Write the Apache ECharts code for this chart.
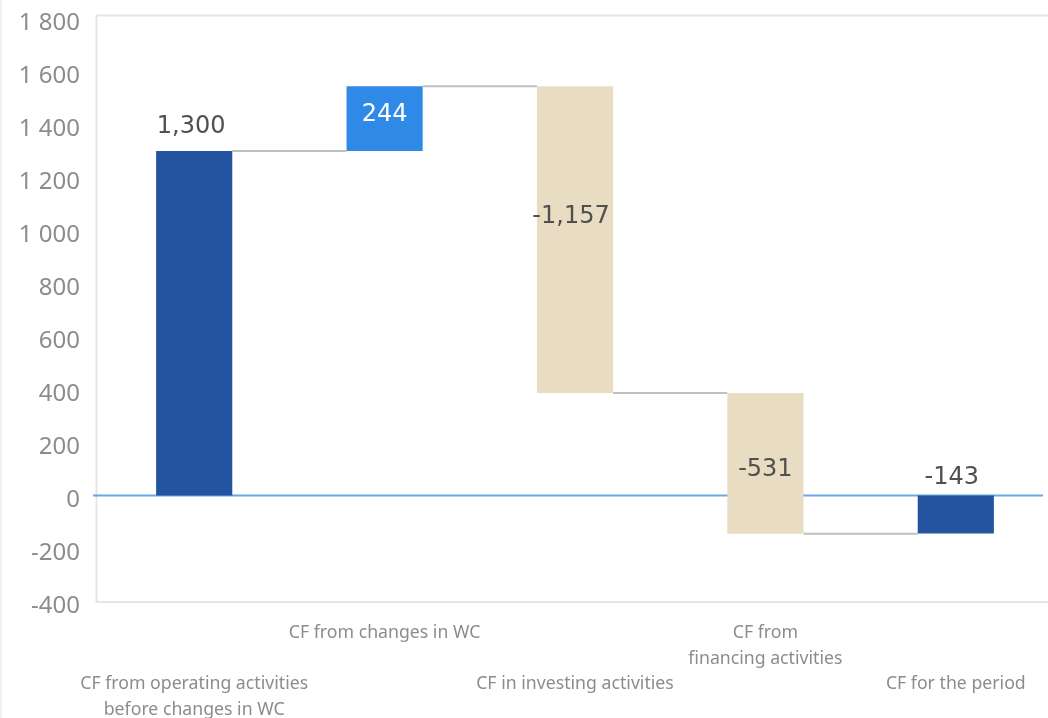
<!DOCTYPE html>
<html>
<head>
<meta charset="utf-8">
<script src="https://cdn.jsdelivr.net/npm/echarts@6/dist/echarts.min.js"></script>
<style>html,body{margin:0;padding:0;background:#fff}#c{width:1048px;height:718px}</style>
</head>
<body>
<div id="c"></div>
<script>
// ---- data ----
const categories = [
  'CF from operating activities\nbefore changes in WC',
  'CF from changes in WC',
  'CF in investing activities',
  'CF from\nfinancing activities',
  'CF for the period'
];
const values = [1300, 244, -1157, -531, -143];
const isTotal = [true, false, false, false, true];
const yMin = -400, yMax = 1800, yInterval = 200;

// ---- styles ----
const barColors = ['#24549f', '#2e8ae6', '#e8dcc2', '#e8dcc2', '#24549f'];
const labelColors = ['#505050', '#ffffff', '#505050', '#505050', '#505050'];
const labelDy = [-24, 28, 130, 77, -18]; // px from bar top to label centre
const labelDx = [-3, 0, -4, 0, -4];

// ---- derived ranges ----
const bars = [];
let running = 0;
values.forEach((v, i) => {
  let s, e;
  if (isTotal[i]) { s = 0; e = v; running = v; }
  else { s = running; e = running + v; running = e; }
  bars.push([i, s, e, v, running]);
});

function fmtComma(v) { return (v < 0 ? '-' : '') + Math.abs(v).toString().replace(/\B(?=(\d{3})+(?!\d))/g, ','); }
function fmtSpace(v) { return (v < 0 ? '-' : '') + Math.abs(v).toString().replace(/\B(?=(\d{3})+(?!\d))/g, ' '); }

const chart = echarts.init(document.getElementById('c'), null, { renderer: 'canvas' });
chart.setOption({
  animation: false,
  backgroundColor: '#ffffff',
  grid: { left: 99, right: -3, top: 18.5, bottom: 116.5, outerBoundsMode: 'none', containLabel: false },
  graphic: [
    { type: 'rect', shape: { x: 96.5, y: 15.5, width: 1000, height: 586.5 }, style: { fill: 'none', stroke: '#e6e6e6', lineWidth: 2 }, z: -10 },
    { type: 'line', shape: { x1: 1, y1: 0, x2: 1, y2: 718 }, style: { stroke: '#f0f0f0', lineWidth: 2 }, z: -10 }
  ],
  xAxis: {
    type: 'category',
    data: categories,
    axisLine: { show: false, onZero: false },
    axisTick: { show: false },
    splitLine: { show: false },
    axisLabel: {
      interval: 0,
      margin: 19,
      color: '#8c8c8c',
      fontSize: 17.7,
      lineHeight: 25.5,
      fontFamily: '"Noto Sans", "Open Sans", sans-serif',
      formatter: (val, idx) => (idx % 2 === 0 ? '\n\n' : '') + val
    }
  },
  yAxis: {
    type: 'value',
    min: yMin, max: yMax, interval: yInterval,
    axisLine: { show: false },
    axisTick: { show: false },
    splitLine: { show: false },
    axisLabel: {
      margin: 19,
      color: '#8c8c8c',
      fontSize: 24,
      verticalAlign: 'top',
      lineHeight: 10,
      fontFamily: '"Noto Sans", "Open Sans", sans-serif',
      formatter: v => fmtSpace(v)
    }
  },
  series: [
    {
      type: 'custom',
      name: 'zero',
      data: [[0, 0]],
      z: 1,
      renderItem: (params, api) => {
        const y = api.coord([0, 0])[1];
        return { type: 'line', shape: { x1: 93, y1: y, x2: 1043, y2: y }, style: { stroke: '#6aa6e8', lineWidth: 2 } };
      }
    },
    {
      type: 'custom',
      name: 'waterfall',
      data: bars,
      z: 2,
      encode: { x: 0, y: [1, 2] },
      renderItem: (params, api) => {
        const i = api.value(0);
        const s = api.value(1), e = api.value(2), v = api.value(3), run = api.value(4);
        const w = api.size([1, 0])[0] * 0.4;
        const p1 = api.coord([i, s]);
        const p2 = api.coord([i, e]);
        const top = Math.min(p1[1], p2[1]);
        const bot = Math.max(p1[1], p2[1]);
        const x = p1[0] - w / 2;
        const children = [
          { type: 'rect', shape: { x: x, y: top, width: w, height: bot - top }, style: { fill: barColors[i] } }
        ];
        if (i < values.length - 1) {
          const next = api.coord([i + 1, run]);
          children.push({ type: 'line', z2: -1, shape: { x1: x + w, y1: next[1], x2: next[0] - w / 2, y2: next[1] }, style: { stroke: '#c0c0c0', lineWidth: 2 } });
        }
        children.push({
          type: 'text', z2: 5,
          style: {
            text: fmtComma(v), x: p1[0] + labelDx[i], y: top + labelDy[i],
            align: 'center', verticalAlign: 'middle',
            fill: labelColors[i], fontSize: 24,
            fontFamily: '"DejaVu Sans", "Noto Sans", sans-serif'
          }
        });
        return { type: 'group', children: children };
      }
    }
  ]
});
</script>
</body>
</html>
